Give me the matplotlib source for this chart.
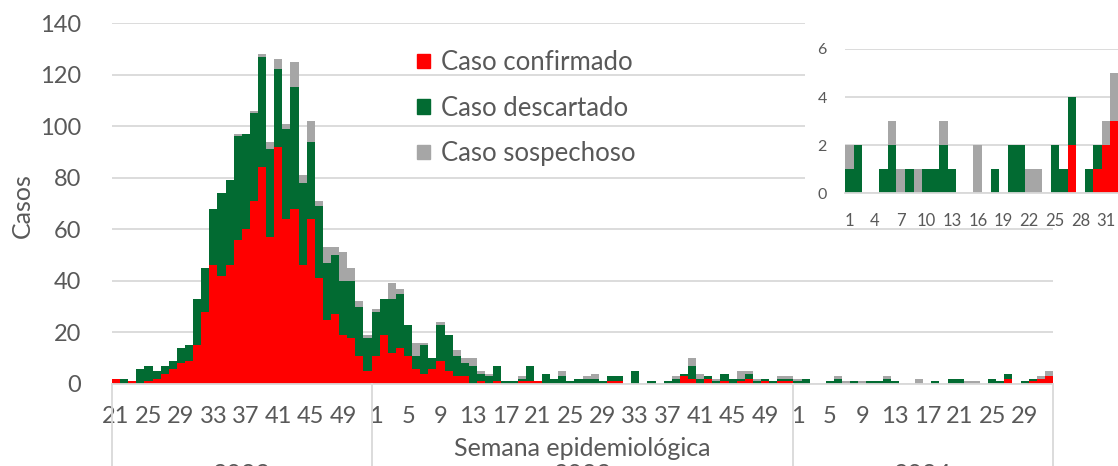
import numpy as np
import matplotlib.pyplot as plt
from matplotlib.patches import Patch, Rectangle
from matplotlib.transforms import blended_transform_factory

plt.rcParams['font.family'] = ['Lato', 'DejaVu Sans']

# semanas epidemiológicas por año
sem_2022 = list(range(21, 53))
sem_2023 = list(range(1, 53))
sem_2024 = list(range(1, 33))

conf_2022 = [2, 0, 1, 0, 1, 2, 4, 6, 8, 9, 15, 28, 46, 42, 46, 56, 60, 71, 84, 57,
             92, 64, 68, 46, 64, 41, 25, 27, 19, 18, 11, 5]
desc_2022 = [0, 2, 0, 6, 6, 3, 3, 3, 6, 6, 18, 17, 22, 32, 33, 40, 37, 34, 43, 34,
             30, 35, 47, 32, 30, 28, 22, 23, 21, 22, 19, 13]
sosp_2022 = [0, 0, 0, 0, 0, 0, 0, 0, 0, 0, 0, 0, 0, 0, 0, 1, 0, 1, 1, 3,
             4, 2, 10, 3, 8, 2, 6, 3, 11, 5, 2, 1]

conf_2023 = [11, 19, 12, 14, 11, 6, 4, 6, 9, 5, 3, 3, 0, 1, 0, 1, 0, 0, 1, 1,
             1, 0, 0, 0, 0, 0, 0, 0, 0, 1, 1, 0, 0, 0, 0, 0, 0, 0, 3, 2,
             0, 2, 0, 1, 0, 1, 2, 0, 1, 0, 1, 1]
desc_2023 = [17, 14, 21, 21, 12, 5, 11, 4, 14, 14, 8, 5, 7, 3, 3, 6, 1, 1, 1, 6,
             0, 4, 2, 3, 1, 2, 2, 2, 1, 2, 2, 0, 5, 0, 1, 0, 1, 2, 1, 5,
             2, 1, 1, 3, 2, 1, 2, 1, 1, 1, 1, 1]
sosp_2023 = [1, 0, 6, 2, 0, 5, 1, 0, 1, 0, 2, 2, 3, 1, 1, 0, 0, 0, 1, 0,
             0, 0, 0, 2, 0, 0, 1, 2, 0, 0, 0, 0, 0, 0, 0, 0, 0, 1, 0, 3,
             2, 0, 1, 0, 0, 3, 1, 1, 0, 0, 1, 1]

conf_2024 = [0, 0, 0, 0, 0, 0, 0, 0, 0, 0, 0, 0, 0, 0, 0, 0, 0, 0, 0, 0,
             0, 0, 0, 0, 0, 0, 2, 0, 0, 1, 2, 3]
desc_2024 = [1, 2, 0, 0, 1, 2, 0, 1, 0, 1, 1, 2, 1, 0, 0, 0, 0, 1, 0, 2,
             2, 0, 0, 0, 2, 1, 2, 0, 1, 1, 0, 0]
sosp_2024 = [1, 0, 0, 0, 0, 1, 1, 0, 1, 0, 0, 1, 0, 0, 0, 2, 0, 0, 0, 0,
             0, 1, 1, 0, 0, 0, 0, 0, 0, 0, 1, 2]

anios = ['2022', '2023', '2024']

ROJO = '#ff0000'
VERDE = '#026b32'
GRIS = '#a6a6a6'
TXT = '#595959'
LINEA = '#d9d9d9'

W, H = 1118, 466
fig = plt.figure(figsize=(W / 100, H / 100), dpi=100)

semanas = sem_2022 + sem_2023 + sem_2024
conf = np.array(conf_2022 + conf_2023 + conf_2024)
desc = np.array(desc_2022 + desc_2023 + desc_2024)
sosp = np.array(sosp_2022 + sosp_2023 + sosp_2024)
x = np.arange(len(semanas))

# ---- grafico principal ----
ax = fig.add_axes([112 / W, (H - 384) / H, 941 / W, 361 / H])
ax.bar(x, conf, width=1.0, color=ROJO, linewidth=0, label='Caso confirmado')
ax.bar(x, desc, width=1.0, bottom=conf, color=VERDE, linewidth=0, label='Caso descartado')
ax.bar(x, sosp, width=1.0, bottom=conf + desc, color=GRIS, linewidth=0, label='Caso sospechoso')

ax.set_xlim(-0.5, len(x) - 0.5)
ax.set_ylim(0, 140)
ax.set_yticks(range(0, 141, 20))
ax.grid(axis='y', color=LINEA, linewidth=1.3)
ax.set_axisbelow(True)
for s in ['top', 'right', 'left']:
    ax.spines[s].set_visible(False)
ax.spines['bottom'].set_color(LINEA)
ax.spines['bottom'].set_linewidth(1.3)

# etiquetas cada 4 semanas dentro de cada año
cortes = [0, len(sem_2022), len(sem_2022) + len(sem_2023), len(x)]
pos, lab = [], []
for k in range(3):
    for i in range(cortes[k], cortes[k + 1], 4):
        pos.append(i)
        lab.append(str(semanas[i]))
ax.set_xticks(pos)
ax.set_xticklabels(lab)
ax.tick_params(axis='x', length=0, pad=16, labelsize=17, labelcolor=TXT)
ax.tick_params(axis='y', length=0, pad=22, labelsize=17, labelcolor=TXT)

tr = blended_transform_factory(ax.transData, ax.transAxes)
for c in cortes:
    ax.plot([c - 0.5, c - 0.5], [0, -0.3], transform=tr, color=LINEA,
            linewidth=1.3, clip_on=False)
for k in range(3):
    ax.text((cortes[k] + cortes[k + 1] - 1) / 2, -0.218, anios[k], transform=tr,
            ha='center', va='top', fontsize=18, color=TXT)

fig.text(582.5 / W, 1 - 449 / H, 'Semana epidemiológica', ha='center', va='center',
         fontsize=18, color=TXT)
fig.text(22 / W, 1 - 206 / H, 'Casos', ha='center', va='center', rotation=90,
         fontsize=18, color=TXT)

hand = [Patch(color=ROJO), Patch(color=VERDE), Patch(color=GRIS)]
ax.legend(hand, ['Caso confirmado', 'Caso descartado', 'Caso sospechoso'],
          loc='upper left', bbox_to_anchor=(417 / W, 1 - 50 / H),
          bbox_transform=fig.transFigure, frameon=False, fontsize=18.5,
          handlelength=0.5, handleheight=0.5, handletextpad=0.45,
          labelspacing=0.8, borderpad=0, borderaxespad=0, labelcolor=TXT)

# ---- recuadro 2024 ----
fondo = Rectangle((805 / W, (H - 228) / H), 1 - 805 / W, 228 / H,
                  transform=fig.transFigure, facecolor='white', edgecolor='none', zorder=1)
fig.add_artist(fondo)

c24 = np.array(conf_2024)
d24 = np.array(desc_2024)
s24 = np.array(sosp_2024)
xi = np.arange(len(sem_2024))
axin = fig.add_axes([845 / W, (H - 193.3) / H, 274 / W, 144.3 / H], zorder=2)
axin.bar(xi, c24, width=1.0, color=ROJO, linewidth=0)
axin.bar(xi, d24, width=1.0, bottom=c24, color=VERDE, linewidth=0)
axin.bar(xi, s24, width=1.0, bottom=c24 + d24, color=GRIS, linewidth=0)
axin.set_xlim(-0.5, len(xi) - 0.5)
axin.set_ylim(0, 6)
axin.set_yticks([0, 2, 4, 6])
axin.set_xticks(xi[::3])
axin.set_xticklabels([str(sem_2024[i]) for i in xi[::3]])
axin.grid(axis='y', color=LINEA, linewidth=1.3)
axin.set_axisbelow(True)
for s in ['top', 'right', 'left']:
    axin.spines[s].set_visible(False)
axin.spines['bottom'].set_color(LINEA)
axin.spines['bottom'].set_linewidth(1.3)
axin.tick_params(axis='x', length=0, pad=14, labelsize=12, labelcolor=TXT)
axin.tick_params(axis='y', length=0, pad=13, labelsize=11.5, labelcolor=TXT)
axin.patch.set_alpha(0)

fig.savefig('out.png', dpi=100)
